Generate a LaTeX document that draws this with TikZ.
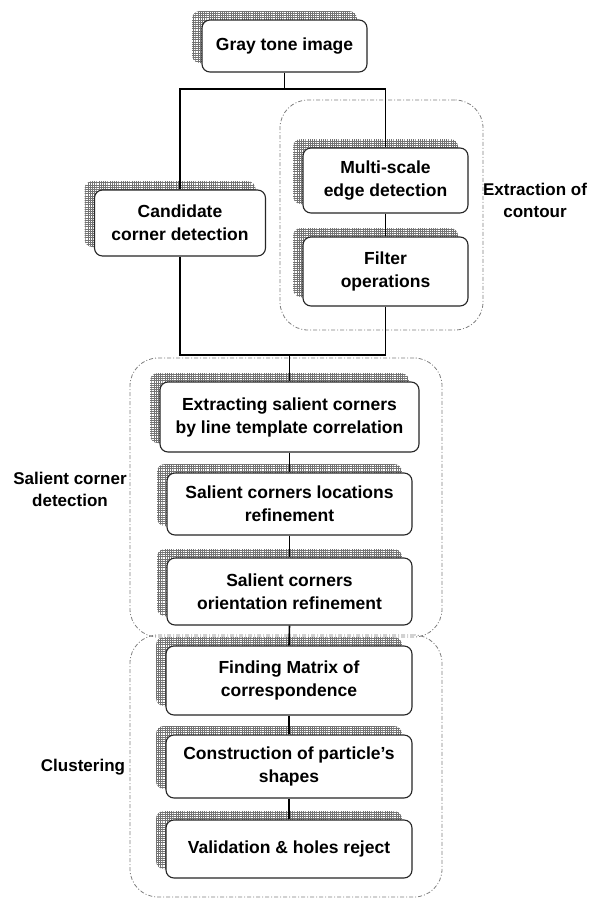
\documentclass[tikz,border=0pt]{standalone}
\usepackage{fontspec}
\setmainfont{Liberation Sans}
\usetikzlibrary{shadows,patterns}
\pgfdeclarepatternformonly{finegrid}{\pgfpoint{-0.5pt}{-0.5pt}}{\pgfpoint{2.5pt}{2.5pt}}{\pgfpoint{2.2pt}{2.2pt}}{%
  \pgfsetlinewidth{0.7pt}%
  \pgfpathmoveto{\pgfpoint{0pt}{0pt}}\pgfpathlineto{\pgfpoint{2.2pt}{0pt}}%
  \pgfpathmoveto{\pgfpoint{0pt}{0pt}}\pgfpathlineto{\pgfpoint{0pt}{2.2pt}}%
  \pgfusepath{stroke}}
\begin{document}
\begin{tikzpicture}[x=1pt,y=-1pt,
  box/.style={draw=black!85, line width=1.1pt, rounded corners=8pt, fill=white,
    align=center, inner sep=0pt, font=\bfseries\fontsize{17.5}{23}\selectfont,
    general shadow={shadow xshift=-10pt, shadow yshift=9pt, pattern=finegrid, pattern color=black!55}},
  group/.style={draw=gray, line width=0.8pt, dash pattern=on 4pt off 2pt on 1pt off 2pt,
    rounded corners=28pt, inner sep=0pt},
  lbl/.style={align=center, font=\bfseries\fontsize{17}{22}\selectfont, inner sep=0pt},
  conn/.style={line width=1.6pt, black}]
\useasboundingbox (0,0) rectangle (599,900);
% groups
\node[group, minimum width=203pt, minimum height=230pt] (gcont) at (381.5,215) {};
\node[group, minimum width=312pt, minimum height=279pt] (gsal) at (286,497.5) {};
\node[group, minimum width=312pt, minimum height=262pt] (gclu) at (286,766) {};
% boxes
\node[box, minimum width=165pt, minimum height=52pt] (gray) at (284.5,46) {Gray tone image};
\node[box, minimum width=171pt, minimum height=66pt] (cand) at (180,223) {Candidate\\corner detection};
\node[box, minimum width=165pt, minimum height=65pt] (multi) at (385.5,180.5) {Multi-scale\\edge detection};
\node[box, minimum width=165pt, minimum height=69pt] (filter) at (385.5,271.5) {Filter\\operations};
\node[box, minimum width=259pt, minimum height=70pt] (extr) at (289.5,417) {Extracting salient corners\\by line template correlation};
\node[box, minimum width=245pt, minimum height=62pt] (loc) at (289.5,504) {Salient corners locations\\refinement};
\node[box, minimum width=245pt, minimum height=67pt] (ori) at (289.5,591.5) {Salient corners\\orientation refinement};
\node[box, minimum width=246pt, minimum height=69pt] (find) at (289,680.5) {Finding Matrix of\\correspondence};
\node[box, minimum width=246pt, minimum height=63pt] (cons) at (289,766.5) {Construction of particle's\\shapes};
\node[box, minimum width=246pt, minimum height=58pt] (val) at (289,849) {Validation \& holes reject};
% labels
\node[lbl] (lcont) at (535,200) {Extraction of\\contour};
\node[lbl] (lsal) at (70,489) {Salient corner\\detection};
\node[lbl] (lclu) at (83,767) {Clustering};
% connectors
\coordinate (split) at (284.5,89);
\coordinate (join) at (289.5,355);
\draw[conn] (gray.south) -- (split);
\draw[conn] (cand.north) |- (split) -| (multi.north);
\draw[conn] (multi.south) -- (filter.north);
\draw[conn] (cand.south) |- (join);
\draw[conn] (filter.south) |- (join);
\draw[conn] (join) -- (extr.north);
\draw[conn] (extr.south) -- (loc.north);
\draw[conn] (loc.south) -- (ori.north);
\draw[conn] (ori.south) -- (find.north);
\draw[conn] (find.south) -- (cons.north);
\draw[conn] (cons.south) -- (val.north);
\end{tikzpicture}
\end{document}
